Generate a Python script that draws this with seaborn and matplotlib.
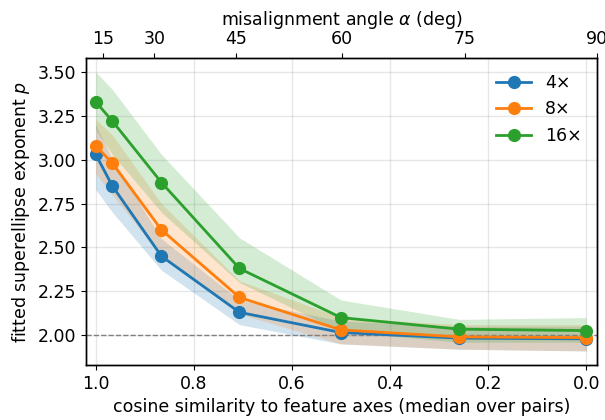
import numpy as np
import pandas as pd
import matplotlib
matplotlib.use("Agg")
import matplotlib.pyplot as plt
import seaborn as sns

# ---- data ----
angles_deg = [0, 15, 30, 45, 60, 75, 90]
cos_sim = [1.0, 0.966, 0.866, 0.707, 0.5, 0.259, 0.0]
series = ["4×", "8×", "16×"]

p_4x = [3.03, 2.85, 2.45, 2.13, 2.015, 1.983, 1.979]
lo_4x = [2.83, 2.70, 2.37, 2.06, 1.95, 1.92, 1.91]
hi_4x = [3.20, 3.00, 2.55, 2.20, 2.08, 2.05, 2.05]

p_8x = [3.08, 2.98, 2.60, 2.215, 2.03, 1.99, 1.986]
lo_8x = [2.92, 2.80, 2.45, 2.12, 1.95, 1.92, 1.91]
hi_8x = [3.23, 3.14, 2.75, 2.31, 2.10, 2.06, 2.06]

p_16x = [3.33, 3.22, 2.87, 2.38, 2.10, 2.034, 2.026]
lo_16x = [3.17, 3.03, 2.70, 2.30, 2.02, 1.96, 1.96]
hi_16x = [3.50, 3.40, 3.03, 2.555, 2.20, 2.09, 2.10]

top_ticks = [15, 30, 45, 60, 75, 90]

colors = ["#1f77b4", "#ff7f0e", "#2ca02c"]

plt.rcParams["font.family"] = ["DejaVu Sans"]
plt.rcParams["font.size"] = 12.5

rows = []
for name, vals in zip(series, [p_4x, p_8x, p_16x]):
    for c, v in zip(cos_sim, vals):
        rows.append({"cos": c, "p": v, "model": name})
df = pd.DataFrame(rows)

fig = plt.figure(figsize=(6.05, 4.2), dpi=100)
ax = fig.add_axes([0.142, 0.131, 0.845, 0.731])

for col, lo, hi in zip(colors, [lo_4x, lo_8x, lo_16x], [hi_4x, hi_8x, hi_16x]):
    ax.fill_between(cos_sim, lo, hi, color=col, alpha=0.2, linewidth=0)

sns.lineplot(data=df, x="cos", y="p", hue="model", palette=colors,
             marker="o", markersize=9.5, markeredgewidth=0, linewidth=2,
             ax=ax, sort=False, zorder=3)

ax.axhline(2.0, color="gray", linestyle="--", linewidth=1, zorder=1)

ax.set_xlim(1.02, -0.022)
ax.set_ylim(1.83, 3.58)
ax.set_yticks([2.0, 2.25, 2.5, 2.75, 3.0, 3.25, 3.5])
ax.set_yticklabels(["2.00", "2.25", "2.50", "2.75", "3.00", "3.25", "3.50"])
ax.set_xticks([1.0, 0.8, 0.6, 0.4, 0.2, 0.0])
ax.set_xticklabels(["1.0", "0.8", "0.6", "0.4", "0.2", "0.0"])
ax.grid(True, color="#b0b0b0", alpha=0.3, linewidth=1)
ax.set_axisbelow(True)
ax.set_xlabel("cosine similarity to feature axes (median over pairs)")
ax.set_ylabel("fitted superellipse exponent $p$")

leg = ax.legend(loc="upper right", frameon=False, title=None)

ax2 = ax.twiny()
ax2.set_xlim(0, 1)
ax2.set_xticks([1 - np.cos(np.radians(a)) for a in top_ticks])
ax2.set_xticklabels([str(a) for a in top_ticks])
ax2.set_xlabel("misalignment angle $\\alpha$ (deg)")

for a in (ax, ax2):
    for s in a.spines.values():
        s.set_color("black")
        s.set_linewidth(1)

fig.savefig("out.png", dpi=100)
